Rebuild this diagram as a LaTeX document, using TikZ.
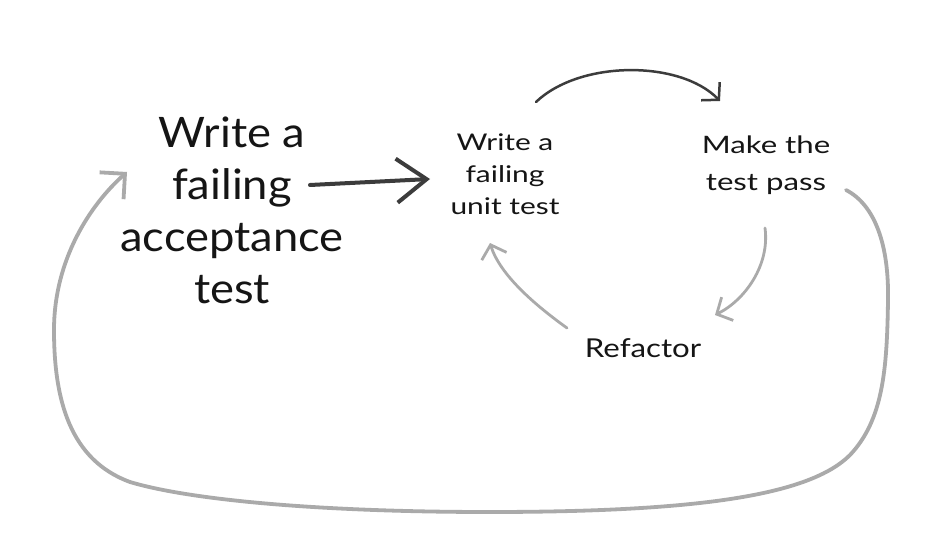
\documentclass[tikz,border=0pt]{standalone}
\usepackage{fontspec}
\setmainfont{Lato}
\newfontfamily\handA[FakeStretch=1.08]{Lato}
\newfontfamily\handB[FakeStretch=1.3]{Lato}
\newfontfamily\handC[FakeStretch=1.2]{Lato}
\usetikzlibrary{arrows.meta}
\definecolor{inkdark}{HTML}{3C3C3C}
\definecolor{inklight}{HTML}{AAAAAA}
\definecolor{inktext}{HTML}{151515}
\tikzset{
  hand/.style={text=inktext, align=center, inner sep=0pt},
  bigtxt/.style={hand, font=\handA\fontsize{42}{52}\selectfont},
  unittxt/.style={hand, font=\handB\fontsize{23}{32}\selectfont},
  maketxt/.style={hand, font=\handB\fontsize{24}{37}\selectfont},
  reftxt/.style={hand, font=\handC\fontsize{26}{32}\selectfont},
  darkarrow/.style={draw=inkdark, line width=4pt, line cap=round, line join=round,
    -{Straight Barb[length=30pt, width=44pt, line width=4pt]}},
  arcarrow/.style={draw=inkdark, line width=2.5pt, line cap=round, line join=round,
    -{Straight Barb[length=12pt, width=26pt, line width=2.5pt]}},
  lightarrow/.style={draw=inklight, line width=2.8pt, line cap=round, line join=round,
    -{Straight Barb[length=12pt, width=26pt, line width=2.8pt]}},
  looparrow/.style={draw=inklight, line width=3.8pt, line cap=round, line join=round,
    -{Straight Barb[length=18pt, width=36pt, line width=3.8pt]}},
}
\begin{document}
\begin{tikzpicture}[x=1pt,y=-1pt]
\useasboundingbox[fill=white] (0,0) rectangle (934,556);

\node[bigtxt] (acc) at (232,210) {Write a\\failing\\acceptance\\test};
\node[unittxt] (unit) at (505,174) {Write a\\failing\\unit test};
\node[maketxt] (make) at (766,165) {Make the\\test pass};
\node[reftxt] (ref) at (643,348) {Refactor};

% connector end points
\coordinate (accR) at (310,185);
\coordinate (unitL) at (430,179);
\coordinate (unitT) at (536,102);
\coordinate (makeT) at (720,101);
\coordinate (makeB) at (765,228);
\coordinate (refR) at (715,315);
\coordinate (refL) at (567,328);
\coordinate (unitB) at (490,243);
\coordinate (makeR) at (846,190);
\coordinate (accL) at (127,172);

\draw[darkarrow] (accR) -- (unitL);
\draw[arcarrow] (unitT) .. controls (580,60) and (680,60) .. (makeT);
\draw[lightarrow] (makeB) .. controls (770,265) and (745,300) .. (refR);
\draw[lightarrow] (refL) .. controls (535,305) and (500,275) .. (unitB);
\draw[looparrow] (makeR) .. controls (875,205) and (889,245) .. (888,300)
  .. controls (887,370) and (883,420) .. (850,455)
  .. controls (810,495) and (700,512) .. (489,512)
  .. controls (320,512) and (190,500) .. (130,482)
  .. controls (70,460) and (54,400) .. (54,330)
  .. controls (54,260) and (90,205) .. (accL);
\end{tikzpicture}
\end{document}
